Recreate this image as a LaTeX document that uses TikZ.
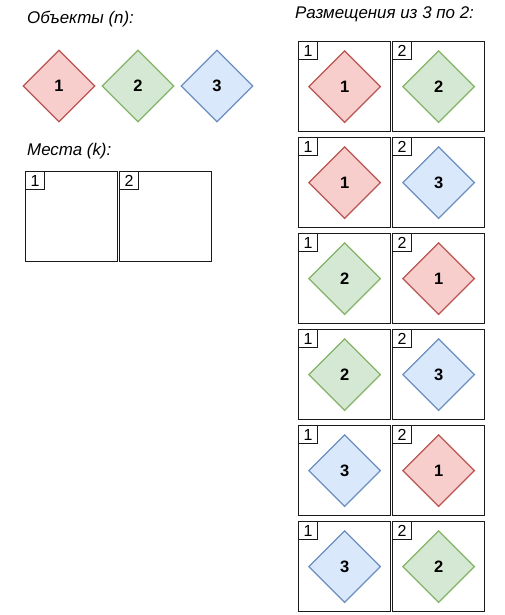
\documentclass[tikz,border=0pt]{standalone}
\usepackage{fontspec}
\setmainfont{Liberation Sans}
\usetikzlibrary{shapes.geometric}
\definecolor{redf}{HTML}{F8CECC}\definecolor{redd}{HTML}{B85450}
\definecolor{greenf}{HTML}{D5E8D4}\definecolor{greend}{HTML}{82B366}
\definecolor{bluef}{HTML}{DAE8FC}\definecolor{blued}{HTML}{6C8EBF}
\definecolor{boxd}{HTML}{1A1A1A}
\tikzset{
  obj/.style={shape=diamond, draw, line width=1.2pt, minimum width=72pt, minimum height=72pt, inner sep=0pt, font=\bfseries\fontsize{16.5}{16.5}\selectfont},
  o1/.style={obj, fill=redf, draw=redd},
  o2/.style={obj, fill=greenf, draw=greend},
  o3/.style={obj, fill=bluef, draw=blued},
  place/.style={rectangle, draw=boxd, line width=1.3pt, minimum width=92pt, minimum height=90pt, inner sep=0pt, anchor=north west},
  plabel/.style={rectangle, draw=boxd, line width=1.1pt, minimum width=19pt, minimum height=18pt, inner sep=0pt, anchor=north west, font=\fontsize{16}{16}\selectfont},
  title/.style={anchor=west, inner sep=0pt, font=\itshape\fontsize{16.9}{16.9}\selectfont}
}
\begin{document}
\begin{tikzpicture}[x=1pt,y=-1pt]
\useasboundingbox (0,0) rectangle (505,615);
\node[title] (t1) at (27,19) {Объекты (\textit{n}):};
\node[o1] (a1) at (59,86) {1};
\node[o2] (a2) at (138,86) {2};
\node[o3] (a3) at (217,86) {3};
\node[title] (t2) at (27,151) {Места (\textit{k}):};
\node[place] (p1) at (25,171) {};
\node[place] (p2) at (119,171) {};
\node[plabel] (pl1) at (p1.north west) {1};
\node[plabel] (pl2) at (p2.north west) {2};
\node[title] (t3) at (295,14) {Размещения из 3 по 2:};
\foreach \a/\b [count=\i] in {1/2,1/3,2/1,2/3,3/1,3/2}{
  \pgfmathsetmacro{\yy}{41+96*(\i-1)}
  \node[place] (r\i a) at (298,\yy) {};
  \node[place] (r\i b) at (392,\yy) {};
  \node[plabel] (r\i al) at (r\i a.north west) {1};
  \node[plabel] (r\i bl) at (r\i b.north west) {2};
  \node[o\a] (r\i ad) at (r\i a.center) {\a};
  \node[o\b] (r\i bd) at (r\i b.center) {\b};
}
\end{tikzpicture}
\end{document}
